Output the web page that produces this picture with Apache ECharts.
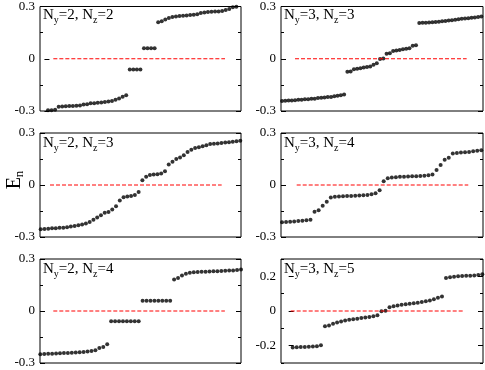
<!DOCTYPE html>
<html>
<head>
<meta charset="utf-8">
<script src="https://cdn.jsdelivr.net/npm/echarts@6/dist/echarts.min.js"></script>
<style>
  html, body { margin: 0; padding: 0; background: #fff; }
  #main { width: 485px; height: 370px; }
</style>
</head>
<body>
<div id="main"></div>
<script>
// eigenvalues E_n, sorted, one array per panel
var e22 = [-0.296, -0.295, -0.293, -0.275, -0.274, -0.273, -0.272, -0.271, -0.270, -0.268, -0.263, -0.261,
  -0.256, -0.255, -0.253, -0.251, -0.249, -0.245, -0.242, -0.236, -0.228, -0.218, -0.210,
  -0.062, -0.062, -0.062, -0.062, 0.061, 0.061, 0.061, 0.061,
  0.210, 0.216, 0.226, 0.234, 0.240, 0.243, 0.245, 0.247, 0.249, 0.251, 0.253, 0.256,
  0.262, 0.266, 0.268, 0.270, 0.271, 0.272, 0.274, 0.280, 0.286, 0.295, 0.298];
var e33 = [-0.242, -0.241, -0.240, -0.239, -0.238, -0.236, -0.235, -0.233, -0.232, -0.230,
  -0.229, -0.226, -0.224, -0.222, -0.220, -0.219, -0.215, -0.212, -0.209, -0.205,
  -0.075, -0.073, -0.060, -0.058, -0.055, -0.050, -0.048, -0.044, -0.035, -0.026,
  -0.002, 0.002,
  0.028, 0.032, 0.044, 0.047, 0.050, 0.055, 0.057, 0.060, 0.075, 0.078,
  0.205, 0.206, 0.207, 0.208, 0.209, 0.211, 0.213, 0.215, 0.217, 0.219,
  0.221, 0.224, 0.227, 0.229, 0.231, 0.233, 0.235, 0.237, 0.239, 0.242];
var e23 = [-0.256, -0.254, -0.252, -0.250, -0.249, -0.247, -0.246, -0.244, -0.240, -0.236,
  -0.232, -0.228, -0.222, -0.214, -0.200, -0.188, -0.174, -0.160, -0.156, -0.142,
  -0.122, -0.090, -0.070, -0.066, -0.063, -0.058, -0.040,
  0.028, 0.048, 0.057, 0.060, 0.062, 0.066, 0.080, 0.118, 0.134, 0.150,
  0.158, 0.172, 0.190, 0.204, 0.214, 0.218, 0.224, 0.230, 0.236, 0.238,
  0.240, 0.243, 0.245, 0.247, 0.249, 0.252, 0.256];
var e34 = [-0.215, -0.213, -0.212, -0.210, -0.208, -0.206, -0.204, -0.200,
  -0.155, -0.145, -0.120, -0.097,
  -0.072, -0.068, -0.066, -0.065, -0.064, -0.063, -0.062, -0.061, -0.059, -0.057, -0.054, -0.048,
  -0.030, 0.021, 0.039,
  0.043, 0.045, 0.047, 0.048, 0.049, 0.050, 0.051, 0.052, 0.054, 0.056, 0.060,
  0.087, 0.116, 0.145, 0.157,
  0.182, 0.185, 0.187, 0.189, 0.191, 0.194, 0.197, 0.201];
var e24 = [-0.250, -0.248, -0.247, -0.246, -0.245, -0.244, -0.243, -0.242, -0.241, -0.240,
  -0.238, -0.236, -0.234, -0.231, -0.226, -0.214, -0.208, -0.192,
  -0.059, -0.059, -0.059, -0.059, -0.059, -0.059, -0.059, -0.059,
  0.059, 0.059, 0.059, 0.059, 0.059, 0.059, 0.059, 0.059,
  0.182, 0.190, 0.205, 0.215, 0.220, 0.223, 0.225, 0.226, 0.227, 0.228,
  0.229, 0.230, 0.231, 0.232, 0.233, 0.234, 0.236, 0.240];
var e35 = [-0.210, -0.209, -0.208, -0.207, -0.206, -0.205, -0.203, -0.198,
  -0.088, -0.084, -0.074, -0.066, -0.060, -0.055, -0.051, -0.047, -0.044, -0.041, -0.038, -0.035, -0.031, -0.024,
  -0.002, 0.002,
  0.022, 0.028, 0.032, 0.036, 0.039, 0.042, 0.045, 0.048, 0.052, 0.056, 0.061, 0.068, 0.076, 0.083,
  0.190, 0.195, 0.198, 0.200, 0.202, 0.203, 0.204, 0.205, 0.207, 0.212];

var panelData = [e22, e33, e23, e34, e24, e35];
var panelN = [[2, 2], [3, 3], [2, 3], [3, 4], [2, 4], [3, 5]];   // [Ny, Nz]
var xRange = [[-1.25, 55.3], [0.69, 62.5], [0.81, 54.19], [0.75, 50.42], [0.92, 52], [-1.9, 48.17]];
var zeroLineX = [[2.5, 50.8], [4.98, 57.5], [3.47, 49.06], [4.61, 46.8], [4.3, 47.9], [0.5, 43.3]];
var majorTicks = [[-0.3, 0, 0.3], [-0.3, 0, 0.3], [-0.3, 0, 0.3], [-0.3, 0, 0.3], [-0.3, 0, 0.3], [-0.2, 0, 0.2]];
var minorTicks = [[-0.15, 0.15], [-0.15, 0.15], [-0.15, 0.15], [-0.15, 0.15], [-0.15, 0.15], [-0.3, -0.1, 0.1, 0.3]];

// grid boxes in pixels
var boxes = [
  { left: 40, top: 5, width: 201, height: 106 },
  { left: 281, top: 5, width: 202, height: 106 },
  { left: 40, top: 133, width: 201, height: 104 },
  { left: 281, top: 133, width: 202, height: 104 },
  { left: 40, top: 259, width: 201, height: 104 },
  { left: 281, top: 259, width: 202, height: 104 }
];

var serif = 'Liberation Serif';
var myChart = echarts.init(document.getElementById('main'));
var grids = [], xAxes = [], yAxes = [], series = [], graphics = [];

function yAx(i, pos, ticks, len, labels) {
  return {
    type: 'value', gridIndex: i, position: pos, min: -0.3, max: 0.3,
    axisLine: { show: false },
    splitLine: { show: false },
    axisTick: { show: true, inside: true, length: len, customValues: ticks, lineStyle: { color: '#000', width: 1 } },
    axisLabel: labels ? {
      show: true, customValues: ticks, margin: 5, color: '#000', fontFamily: serif, fontSize: 13,
      formatter: function (v) { return v === 0 ? '0' : String(v); }
    } : { show: false }
  };
}

panelData.forEach(function (vals, i) {
  var b = boxes[i];
  grids.push({ left: b.left, top: b.top, width: b.width, height: b.height, show: true, borderColor: '#000', borderWidth: 1 });
  xAxes.push({ type: 'value', gridIndex: i, min: xRange[i][0], max: xRange[i][1], show: false });
  var yi = yAxes.length;
  yAxes.push(yAx(i, 'left', majorTicks[i], 5, true));
  yAxes.push(yAx(i, 'right', majorTicks[i], 5, false));
  yAxes.push(yAx(i, 'left', minorTicks[i], 3, false));
  yAxes.push(yAx(i, 'right', minorTicks[i], 3, false));

  series.push({
    type: 'line', xAxisIndex: i, yAxisIndex: yi, symbol: 'none', silent: true,
    data: [[zeroLineX[i][0], 0], [zeroLineX[i][1], 0]],
    lineStyle: { color: '#ff0000', width: 1, type: [4, 2] }
  });
  series.push({
    type: 'scatter', xAxisIndex: i, yAxisIndex: yi, symbol: 'circle', symbolSize: 4, silent: true,
    itemStyle: { color: '#000' },
    data: vals.map(function (v, k) { return [k + 1, v]; })
  });

  graphics.push({
    type: 'text', x: b.left + 3, y: b.top + 1,
    style: {
      text: '{n|N}{s|y}{n|=' + panelN[i][0] + ', N}{s|z}{n|=' + panelN[i][1] + '}',
      align: 'left', verticalAlign: 'top',
      rich: {
        n: { fontSize: 15, fontFamily: serif, fill: '#000' },
        s: { fontSize: 10, fontFamily: serif, fill: '#000', padding: [9, 0, 0, 0] }
      }
    }
  });
});

graphics.push({
  type: 'text', x: 15, y: 180, rotation: Math.PI / 2,
  style: {
    text: '{e|E}{s|n}', align: 'center', verticalAlign: 'middle',
    rich: {
      e: { fontSize: 20, fontFamily: serif, fill: '#000' },
      s: { fontSize: 13, fontFamily: serif, fill: '#000', padding: [10, 0, 0, 0] }
    }
  }
});

var option = {
  animation: false,
  grid: grids,
  xAxis: xAxes,
  yAxis: yAxes,
  series: series,
  graphic: graphics
};

option && myChart.setOption(option);
window.onresize = myChart.resize;
</script>
</body>
</html>
